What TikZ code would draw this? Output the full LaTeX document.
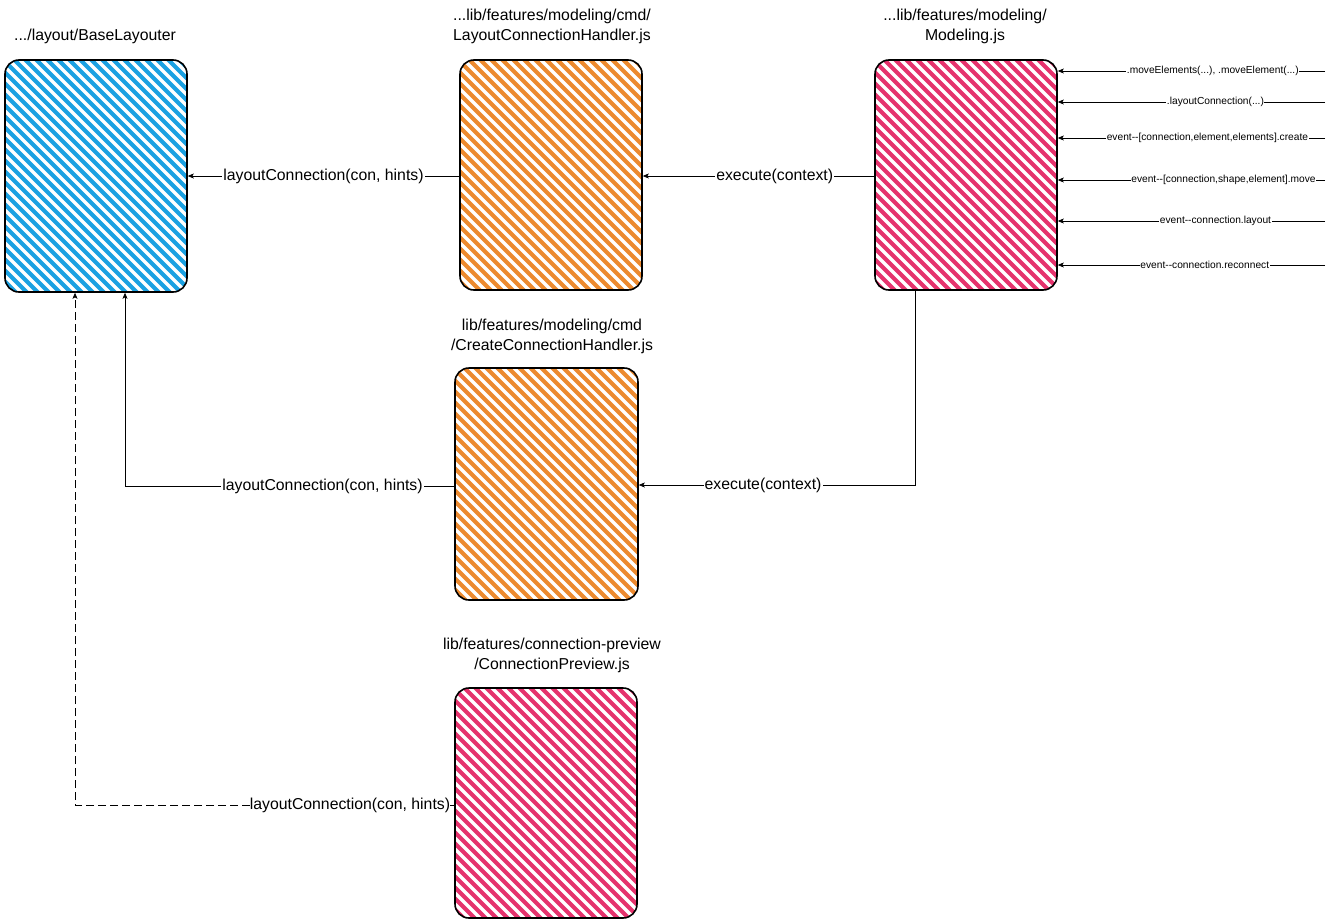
\documentclass[tikz,border=0pt]{standalone}
\usepackage{fontspec}
\setmainfont{Liberation Sans}
\usetikzlibrary{arrows.meta}
\definecolor{cblue}{HTML}{1BA1E2}
\definecolor{corange}{HTML}{EC8A2F}
\definecolor{cpink}{HTML}{E5336D}
\newcommand{\hatchbox}[6]{% name, x0,y0,x1,y1,color
  \begin{scope}
    \clip[rounded corners=14pt] (#2,#3) rectangle (#4,#5);
    \fill[#6] (#2,#3) rectangle (#4,#5);
    \foreach \k in {-260,-249,...,200}{
      \draw[white,line width=3.4pt] (#2+\k,#3) -- ++(260,260);
    }
  \end{scope}
  \node[draw=black,line width=1.6pt,rounded corners=14pt,minimum width=#4-#2,minimum height=#5-#3,inner sep=0pt] (#1) at ({(#2+#4)/2},{(#3+#5)/2}) {};
}
\begin{document}
\begin{tikzpicture}[x=1pt,y=-1pt,
  lbl/.style={font=\fontsize{15.8}{18}\selectfont,fill=white,inner sep=1pt},
  slbl/.style={font=\fontsize{10.2}{12}\selectfont,fill=white,inner sep=0.5pt},
  ttl/.style={font=\fontsize{15.8}{20}\selectfont,align=center},
  arr/.style={-{Stealth[length=6pt,width=5pt,inset=1.5pt]},line width=0.6pt}]
\useasboundingbox (0,0) rectangle (1335,921);
\hatchbox{bl}{5}{60}{187}{292}{cblue}
\hatchbox{o1}{460}{60}{642}{290}{corange}
\hatchbox{p1}{875}{60}{1057}{290}{cpink}
\hatchbox{o2}{455}{368}{638}{600}{corange}
\hatchbox{p2}{455}{688}{637}{918}{cpink}
\node[ttl] (t1) at (95,36) {.../layout/BaseLayouter};
\node[ttl] (t2) at (552,26) {...lib/features/modeling/cmd/\\LayoutConnectionHandler.js};
\node[ttl] (t3) at (965,26) {...lib/features/modeling/\\Modeling.js};
\node[ttl] (t4) at (552,336) {lib/features/modeling/cmd\\/CreateConnectionHandler.js};
\node[ttl] (t5) at (552,655) {lib/features/connection-preview\\/ConnectionPreview.js};
\draw[arr] (p1.west |- 0,176) -- node[lbl,pos=0.43]{execute(context)} (o1.east |- 0,176);
\draw[arr] (o1.west |- 0,176) -- node[lbl,pos=0.5]{layoutConnection(con, hints)} (bl.east |- 0,176);
\coordinate (c1) at (915,485);
\draw[arr] (915,290) -- (c1) -- node[lbl,pos=0.55]{execute(context)} (o2.east |- c1);
\coordinate (c2) at (125,486);
\draw[arr] (o2.west |- c2) -- node[lbl,pos=0.4]{layoutConnection(con, hints)} (c2) -- (bl.south -| c2);
\coordinate (c3) at (75,805);
\draw[arr,dash pattern=on 8pt off 4pt] (p2.west |- c3) -- node[lbl,pos=0.01,anchor=east,inner sep=0pt]{layoutConnection(con, hints)} (c3) -- (bl.south -| c3);
\foreach \y/\t/\p in {71/{.moveElements(...), .moveElement(...)}/0.42, 102/{.layoutConnection(...)}/0.41, 138/{event{-}{-}[connection,element,elements].create}/0.44, 180/{event{-}{-}[connection,shape,element].move}/0.38, 221/{event{-}{-}connection.layout}/0.41, 265/{event{-}{-}connection.reconnect}/0.45}{
  \coordinate (s\y) at (1325,\y);
  \draw[arr] (s\y) -- node[slbl,pos=\p]{\t} (p1.east |- s\y);
}
\end{tikzpicture}
\end{document}
